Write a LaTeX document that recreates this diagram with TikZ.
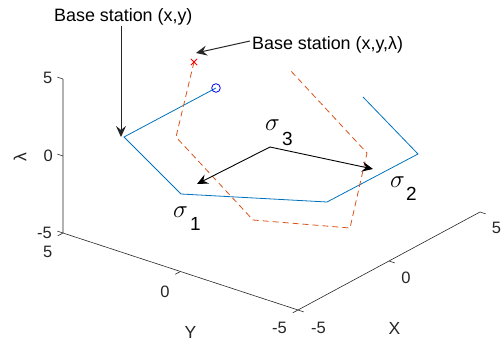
\documentclass[tikz,border=0pt]{standalone}
\usepackage{fontspec}
\setmainfont{Liberation Sans}
\usetikzlibrary{arrows.meta}
\definecolor{mblue}{rgb}{0,0.447,0.741}
\definecolor{mred}{rgb}{0.85,0.325,0.098}
\definecolor{axisc}{rgb}{0.15,0.15,0.15}
\begin{document}
\begin{tikzpicture}[x=1pt,y=-1pt,
  axisline/.style={draw=axisc,line width=0.6pt},
  ticklbl/.style={font=\fontsize{16.5}{18}\selectfont,text=axisc,inner sep=0pt},
  axlbl/.style={font=\fontsize{17.5}{19}\selectfont,text=axisc,inner sep=0pt},
  annot/.style={font=\fontsize{17.9}{20}\selectfont,inner sep=0pt},
  siglbl/.style={font=\fontsize{26}{26}\selectfont,inner sep=0pt},
  sublbl/.style={font=\fontsize{19}{20}\selectfont,inner sep=0pt},
  bluepath/.style={draw=mblue,line width=0.8pt},
  redpath/.style={draw=mred,line width=0.8pt,dash pattern=on 6pt off 4pt},
  sigarrow/.style={draw=black,line width=0.9pt,-{Stealth[length=11pt,width=10pt,inset=4pt]}},
  annarrow/.style={draw=black!85,line width=1pt,-{Stealth[length=11pt,width=10pt,inset=4pt]}}
]
\useasboundingbox (0,0) rectangle (504,343);
% axes corners
\coordinate (zt) at (63,79);
\coordinate (zb) at (63,233);
\coordinate (yc) at (298,310);
\coordinate (xe) at (480,212);
\draw[axisline] (zt) -- (zb) -- (yc) -- (xe);
% lambda ticks
\coordinate (zt5) at (63,79);
\coordinate (zt0) at (63,156);
\coordinate (ztm) at (63,233);
\foreach \c in {zt5,zt0,ztm} \draw[axisline] (\c) -- ++(-5.7,-1.9);
% Y ticks
\coordinate (yt5) at (63,233);
\coordinate (yt0) at (180.5,271.5);
\coordinate (ytm) at (298,310);
\foreach \c in {yt5,yt0,ytm} \draw[axisline] (\c) -- ++(-5.3,2.8);
% X ticks
\coordinate (xtm) at (298,310);
\coordinate (xt0) at (389,261);
\coordinate (xt5) at (480,212);
\foreach \c in {xtm,xt0,xt5} \draw[axisline] (\c) -- ++(5.7,1.9);
% tick labels
\node[ticklbl,anchor=base east] (lz5) at (52.5,83) {5};
\node[ticklbl,anchor=base east] (lz0) at (53,161) {0};
\node[ticklbl,anchor=base east] (lzm) at (52,238) {-5};
\node[ticklbl,anchor=base east] (ly5) at (52.5,257) {5};
\node[ticklbl,anchor=base] (ly0) at (165,297) {0};
\node[ticklbl,anchor=base] (lym) at (279.5,333) {-5};
\node[ticklbl,anchor=base] (lxm) at (318.5,333) {-5};
\node[ticklbl,anchor=base] (lx0) at (406,283) {0};
\node[ticklbl,anchor=base] (lx5) at (496.5,233) {5};
\node[axlbl,anchor=base] (ylab) at (190.5,338) {Y};
\node[axlbl,anchor=base] (xlab) at (394.5,334) {X};
\node[axlbl,rotate=90] (zlab) at (20,157) {λ};
% blue path
\coordinate (b1) at (216,88);
\coordinate (b2) at (124,137);
\coordinate (b3) at (181,194);
\coordinate (b4) at (327,202);
\coordinate (b5) at (418,154);
\coordinate (b6) at (363,97);
\draw[bluepath] (b1) -- (b2) -- (b3) -- (b4) -- (b5) -- (b6);
\draw[draw=blue,line width=0.8pt] (b1) circle (4.3);
% red path
\coordinate (r1) at (194,62);
\coordinate (r2) at (176,137);
\coordinate (r3) at (253,220);
\coordinate (r4) at (350,228);
\coordinate (r5) at (367,153);
\coordinate (r6) at (290,70);
\draw[redpath] (r1) -- (r2) -- (r3) -- (r4) -- (r5) -- (r6);
\draw[draw=red,line width=0.8pt] (r1) ++(-3.2,-3.2) -- ++(6.4,6.4) (r1) ++(-3.2,3.2) -- ++(6.4,-6.4);
% sigma arrows
\coordinate (s0) at (270,147);
\coordinate (s1) at (197,184);
\coordinate (s2) at (373,169);
\draw[sigarrow] (s0) -- (s1);
\draw[sigarrow] (s0) -- (s2);
% sigma labels
\node[siglbl,anchor=base west] (sg3) at (265,130) {$\sigma$};
\node[sublbl,anchor=base west] (sb3) at (282,145) {3};
\node[siglbl,anchor=base west] (sg1) at (173,217) {$\sigma$};
\node[sublbl,anchor=base west] (sb1) at (190,230) {1};
\node[siglbl,anchor=base west] (sg2) at (390,187) {$\sigma$};
\node[sublbl,anchor=base west] (sb2) at (406,200) {2};
% annotations
\node[annot,anchor=base west] (t1) at (54,21) {Base station (x,y)};
\node[annot,anchor=base west] (t2) at (252,49) {Base station (x,y,λ)};
\coordinate (a1s) at (121,26);
\coordinate (a1e) at (121,137);
\coordinate (a2s) at (250,41);
\coordinate (a2e) at (196,53);
\draw[annarrow] (a1s) -- (a1e);
\draw[annarrow] (a2s) -- (a2e);
\end{tikzpicture}
\end{document}
